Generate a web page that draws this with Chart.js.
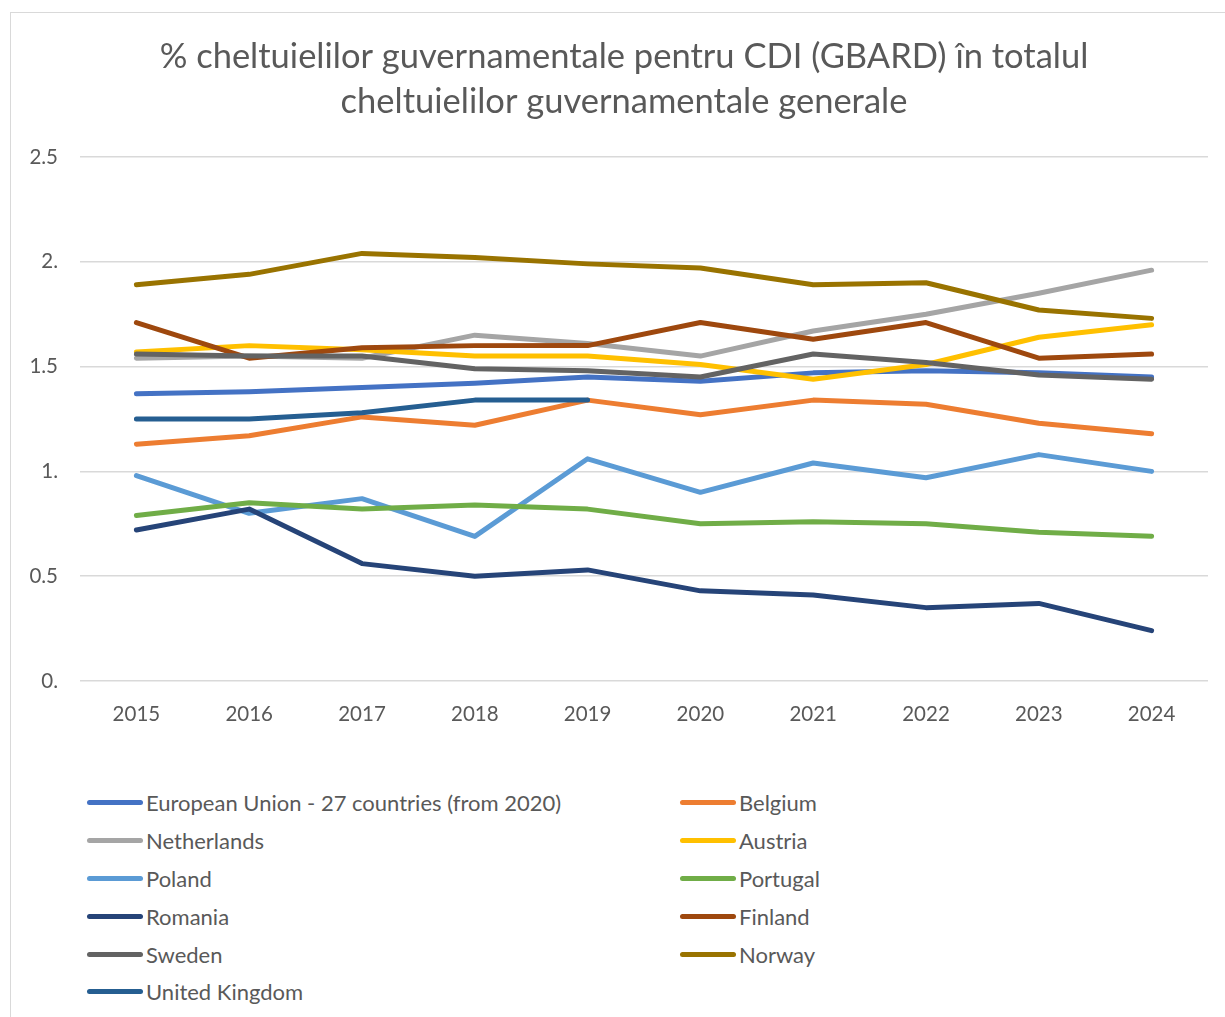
<!DOCTYPE html>
<html>
<head>
<meta charset="utf-8">
<script src="https://cdn.jsdelivr.net/npm/chart.js@4.4.1/dist/chart.umd.min.js"></script>
<style>
  html, body { margin: 0; padding: 0; background: #fff; overflow: hidden; }
  body { width: 1225px; height: 1017px; position: relative; font-family: Lato, "Noto Sans", sans-serif; }
  #frame { position: absolute; left: 10px; top: 12px; width: 1240px; height: 1040px; border: 1.5px solid #d9d9d9; box-sizing: border-box; }
  #wrap { position: absolute; left: 10px; top: 12px; width: 1228px; height: 745px; }
  #legend { position: absolute; left: 87px; top: 784px; display: grid; grid-template-columns: 593px 300px; grid-auto-rows: 37.8px; }
  .item { display: flex; align-items: center; font-size: 22px; color: #595959; white-space: nowrap; }
  .swatch { width: 56px; height: 5px; border-radius: 3px; margin-right: 3px; }
</style>
</head>
<body>
<div id="frame"></div>
<div id="wrap"><canvas id="miCanvas"></canvas></div>
<div id="legend"></div>
<script>
// datos
const anios = ["2015", "2016", "2017", "2018", "2019", "2020", "2021", "2022", "2023", "2024"];
const yTicks = ["0.", "0.5", "1.", "1.5", "2.", "2.5"];

const eu27 = [1.37, 1.38, 1.40, 1.42, 1.45, 1.43, 1.47, 1.48, 1.47, 1.45];
const belgium = [1.13, 1.17, 1.26, 1.22, 1.34, 1.27, 1.34, 1.32, 1.23, 1.18];
const netherlands = [1.54, 1.55, 1.54, 1.65, 1.61, 1.55, 1.67, 1.75, 1.85, 1.96];
const austria = [1.57, 1.60, 1.58, 1.55, 1.55, 1.51, 1.44, 1.51, 1.64, 1.70];
const poland = [0.98, 0.80, 0.87, 0.69, 1.06, 0.90, 1.04, 0.97, 1.08, 1.00];
const portugal = [0.79, 0.85, 0.82, 0.84, 0.82, 0.75, 0.76, 0.75, 0.71, 0.69];
const romania = [0.72, 0.82, 0.56, 0.50, 0.53, 0.43, 0.41, 0.35, 0.37, 0.24];
const finland = [1.71, 1.54, 1.59, 1.60, 1.60, 1.71, 1.63, 1.71, 1.54, 1.56];
const sweden = [1.56, 1.55, 1.55, 1.49, 1.48, 1.45, 1.56, 1.52, 1.46, 1.44];
const norway = [1.89, 1.94, 2.04, 2.02, 1.99, 1.97, 1.89, 1.90, 1.77, 1.73];
const unitedKingdom = [1.25, 1.25, 1.28, 1.34, 1.34, null, null, null, null, null];

const series = [
  ["European Union - 27 countries (from 2020)", eu27, "#4472C4"],
  ["Belgium", belgium, "#ED7D31"],
  ["Netherlands", netherlands, "#A5A5A5"],
  ["Austria", austria, "#FFC000"],
  ["Poland", poland, "#5B9BD5"],
  ["Portugal", portugal, "#70AD47"],
  ["Romania", romania, "#264478"],
  ["Finland", finland, "#9E480E"],
  ["Sweden", sweden, "#636363"],
  ["Norway", norway, "#997300"],
  ["United Kingdom", unitedKingdom, "#255E91"],
];

const gris = "#595959";
const fuente = "Lato, 'Noto Sans', sans-serif";

const datasets = series.map(function (s, i) {
  return {
    label: s[0],
    data: s[1],
    borderColor: s[2],
    backgroundColor: s[2],
    borderWidth: 5,
    borderCapStyle: "round",
    borderJoinStyle: "round",
    pointRadius: 0,
    tension: 0,
    spanGaps: false,
    order: series.length - 1 - i, // las últimas series se dibujan encima (como en Excel)
  };
});

const ctx = document.getElementById("miCanvas");
const myChart = new Chart(ctx, {
  type: "line",
  data: { labels: anios, datasets: datasets },
  options: {
    responsive: true,
    maintainAspectRatio: false,
    animation: false,
    layout: { padding: { top: 22.5, left: 0, right: 0, bottom: 0 } },
    plugins: {
      legend: { display: false },
      tooltip: { enabled: false },
      title: {
        display: true,
        text: [
          "% cheltuielilor guvernamentale pentru CDI (GBARD) în totalul",
          "cheltuielilor guvernamentale generale",
        ],
        color: gris,
        font: { family: fuente, size: 34.5, weight: "normal", lineHeight: 1.304 },
        padding: { top: 0, bottom: 32.5 },
      },
    },
    scales: {
      x: {
        offset: true,
        grid: { display: false, drawTicks: false },
        border: { display: false },
        ticks: { color: gris, font: { family: fuente, size: 20.5 }, padding: 21, maxRotation: 0 },
        afterFit: function (scale) { scale.height = 76; },
      },
      y: {
        min: 0,
        max: 2.5,
        grid: { color: "#d9d9d9", lineWidth: 1.5, drawTicks: false },
        border: { display: false },
        ticks: {
          stepSize: 0.5,
          color: gris,
          font: { family: fuente, size: 20.5 },
          padding: 22,
          callback: function (v, i) { return yTicks[i]; },
        },
        afterFit: function (scale) { scale.width = 70; },
      },
      // eje vacío a la derecha, solo para dejar margen
      yDer: {
        position: "right",
        grid: { display: false, drawTicks: false },
        border: { display: false },
        ticks: { display: false },
        afterFit: function (scale) { scale.width = 30; },
      },
    },
  },
});

// leyenda en dos columnas
const leyenda = document.getElementById("legend");
myChart.data.datasets.forEach(function (ds) {
  const item = document.createElement("div");
  item.className = "item";
  const sw = document.createElement("span");
  sw.className = "swatch";
  sw.style.background = ds.borderColor;
  item.appendChild(sw);
  item.appendChild(document.createTextNode(ds.label));
  leyenda.appendChild(item);
});
</script>
</body>
</html>
